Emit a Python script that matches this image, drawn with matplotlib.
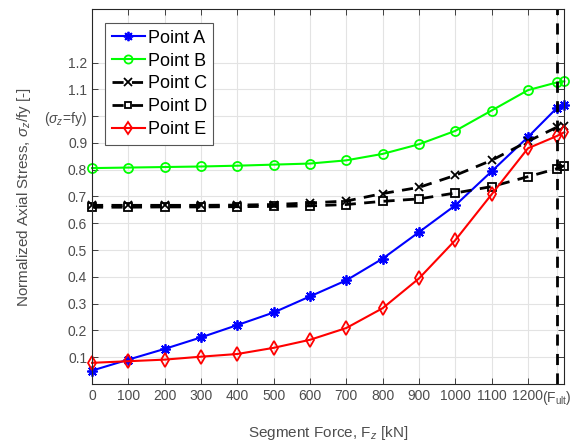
import numpy as np
import matplotlib
matplotlib.use('Agg')
import matplotlib.pyplot as plt

plt.rcParams['font.family'] = ['Liberation Sans', 'DejaVu Sans']
plt.rcParams['mathtext.fontset'] = 'custom'
plt.rcParams['mathtext.rm'] = 'Liberation Sans'
plt.rcParams['mathtext.it'] = 'Liberation Sans:italic'

force = [0, 100, 200, 300, 400, 500, 600, 700, 800, 900, 1000, 1100, 1200, 1280, 1300]
point_a = [0.050, 0.091, 0.131, 0.174, 0.220, 0.267, 0.327, 0.387, 0.468, 0.567, 0.667, 0.794, 0.922, 1.031, 1.040]
point_b = [0.806, 0.808, 0.810, 0.812, 0.815, 0.819, 0.823, 0.835, 0.859, 0.895, 0.945, 1.021, 1.097, 1.126, 1.130]
point_c = [0.667, 0.667, 0.667, 0.667, 0.668, 0.670, 0.676, 0.683, 0.711, 0.734, 0.779, 0.835, 0.906, 0.959, 0.964]
point_d = [0.660, 0.660, 0.661, 0.661, 0.662, 0.663, 0.665, 0.670, 0.682, 0.691, 0.713, 0.737, 0.774, 0.804, 0.815]
point_e = [0.079, 0.085, 0.091, 0.102, 0.112, 0.135, 0.165, 0.209, 0.283, 0.394, 0.537, 0.708, 0.880, 0.926, 0.940]
f_ult = 1280

xticks = [0, 100, 200, 300, 400, 500, 600, 700, 800, 900, 1000, 1100, 1200, 1280]
xticklabels = ['0', '100', '200', '300', '400', '500', '600', '700', '800', '900', '1000', '1100', '1200', r'(F$_{\mathrm{ult}}$)']
yticks = [0.1, 0.2, 0.3, 0.4, 0.5, 0.6, 0.7, 0.8, 0.9, 1.0, 1.1, 1.2]
yticklabels = ['0.1', '0.2', '0.3', '0.4', '0.5', '0.6', '0.7', '0.8', '0.9', r'($\sigma_z$=fy)', '1.1', '1.2']

gray = '#262626'
star = (8, 2, 0)  # matlab style asterisk

fig = plt.figure(figsize=(5.73, 4.43), dpi=100)
ax = fig.add_axes([0.1606, 0.1332, 0.8242, 0.8465])

ax.plot(force, point_a, '-', marker=star, color='b', lw=1.5, ms=7.5, mew=1.3, label='Point A', clip_on=False)
ax.plot(force, point_b, '-o', color=(0, 1, 0), lw=1.5, ms=6.5, mfc='none', mew=1.3, label='Point B', clip_on=False)
ax.plot(force, point_c, '--x', color='k', lw=2, ms=6, mew=1.3, label='Point C', clip_on=False, dashes=(4, 3))
ax.plot(force, point_d, '--s', color='k', lw=2, ms=5.5, mfc='none', mew=1.3, label='Point D', clip_on=False, dashes=(4, 3))
ax.plot(force, point_e, '-d', color='r', lw=1.5, ms=7, mfc='none', mew=1.3, label='Point E', clip_on=False)
ax.axvline(f_ult, color='k', ls='--', lw=2, dashes=(4, 3))

ax.set_xlim(0, 1300)
ax.set_ylim(0, 1.4)
ax.set_xticks(xticks)
ax.set_xticklabels(xticklabels)
ax.set_yticks(yticks)
ax.set_yticklabels(yticklabels)
for lab in ax.get_yticklabels():
    if 'sigma' in lab.get_text():
        lab.set_fontsize(9)

ax.tick_params(direction='in', length=4, width=0.6, top=True, right=True,
               labelsize=10, colors=gray, labelcolor='#4d4d4d')
ax.grid(True, color='#e3e3e3', lw=0.8)
for s in ax.spines.values():
    s.set_color(gray)
    s.set_linewidth(0.8)

ax.set_xlabel(r'Segment Force, F$_z$ [kN]', fontsize=11, color='#4d4d4d', labelpad=12)
ax.set_ylabel(r'Normalized Axial Stress, $\mathit{\sigma_z}$/fy [-]', fontsize=11, color='#4d4d4d', labelpad=8)

leg = ax.legend(loc='upper left', bbox_to_anchor=(0.028, 0.962), fontsize=13,
                fancybox=False, framealpha=1, edgecolor='#555555', handlelength=1.85,
                borderpad=0.35, labelspacing=0.33, handletextpad=0.15, markerscale=0.9,
                borderaxespad=0)
leg.get_frame().set_linewidth(0.8)

fig.savefig('out.png', dpi=100)
